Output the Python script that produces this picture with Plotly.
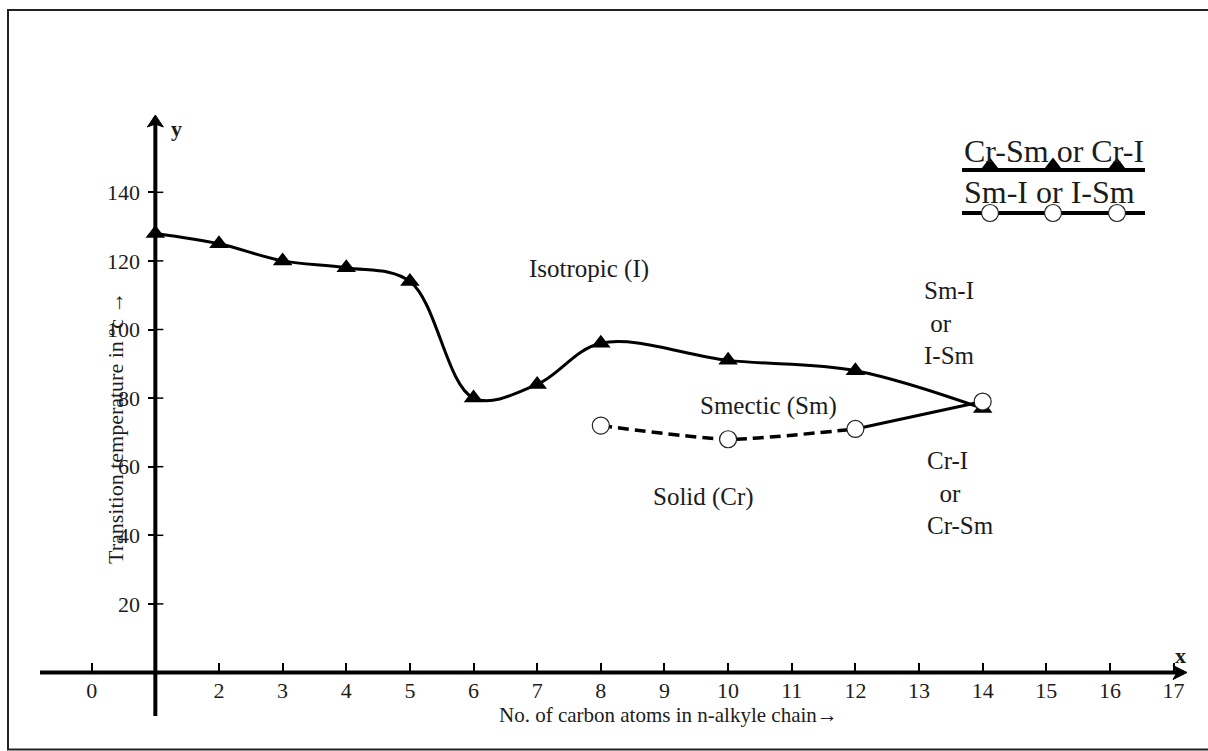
import plotly.graph_objects as go

# Transition temperatures (°C) against n-alkyl chain length
cr_x = [1, 2, 3, 4, 5, 6, 7, 8, 10, 12, 14]
cr_y = [128, 125, 120, 118, 114, 80, 84, 96, 91, 88, 77]

sm_dash_x = [8, 10, 12]
sm_dash_y = [72, 68, 71]
sm_solid_x = [12, 14]
sm_solid_y = [71, 79]

x_ticks = [0, 2, 3, 4, 5, 6, 7, 8, 9, 10, 11, 12, 13, 14, 15, 16, 17]
y_ticks = [20, 40, 60, 80, 100, 120, 140]

W, H = 1208, 751
FONT = "Liberation Serif, Times New Roman, serif"
INK = "#1c1c1c"

# pixel scale of the drawing
X0_PX, XS = 91.7, 63.64
Y0_PX, YS = 672.5, 3.43
x_range = [-X0_PX / XS, (W - X0_PX) / XS]
y_range = [(Y0_PX - H) / YS, Y0_PX / YS]

fig = go.Figure()

# Cr-Sm / Cr-I curve
fig.add_trace(go.Scatter(
    x=cr_x, y=cr_y, mode="lines+markers",
    line=dict(color="black", width=3, shape="spline", smoothing=1.0),
    marker=dict(symbol="triangle-up", size=17, color="black"),
    hoverinfo="skip"))

# Sm-I / I-Sm curve
fig.add_trace(go.Scatter(
    x=sm_dash_x, y=sm_dash_y, mode="lines",
    line=dict(color="black", width=3.5, dash="11px,6px", shape="spline", smoothing=0.6),
    hoverinfo="skip"))
fig.add_trace(go.Scatter(
    x=sm_solid_x, y=sm_solid_y, mode="lines",
    line=dict(color="black", width=3),
    hoverinfo="skip"))
fig.add_trace(go.Scatter(
    x=sm_dash_x + sm_solid_x[1:], y=sm_dash_y + sm_solid_y[1:], mode="markers",
    marker=dict(symbol="circle", size=17, color="white", line=dict(color="#222", width=1.2)),
    hoverinfo="skip"))

# key in the upper right corner (pixel overlay axes)
key_x = [990, 1053, 1117]
fig.add_trace(go.Scatter(
    x=[962, 1145], y=[170, 170], mode="lines", xaxis="x2", yaxis="y2",
    line=dict(color="black", width=4), hoverinfo="skip"))
fig.add_trace(go.Scatter(
    x=key_x, y=[166, 166, 166], mode="markers", xaxis="x2", yaxis="y2",
    marker=dict(symbol="triangle-up", size=17, color="black"), hoverinfo="skip"))
fig.add_trace(go.Scatter(
    x=[962, 1145], y=[213, 213], mode="lines", xaxis="x2", yaxis="y2",
    line=dict(color="black", width=4), hoverinfo="skip"))
fig.add_trace(go.Scatter(
    x=key_x, y=[213, 213, 213], mode="markers", xaxis="x2", yaxis="y2",
    marker=dict(symbol="circle", size=17, color="white", line=dict(color="#222", width=1.2)),
    hoverinfo="skip"))

shapes = []
# outer frame
shapes.append(dict(type="rect", xref="paper", yref="paper",
                   x0=8 / W, x1=1.02, y0=1.5 / H, y1=(H - 10) / H,
                   line=dict(color="#222", width=2)))
# axis lines
x_left, x_tip = (40 - X0_PX) / XS, (1187 - X0_PX) / XS
y_bottom, y_tip = (Y0_PX - 716) / YS, (Y0_PX - 115) / YS
shapes.append(dict(type="line", xref="x", yref="y", x0=x_left, x1=x_tip - 0.12,
                   y0=0, y1=0, line=dict(color="black", width=4)))
shapes.append(dict(type="line", xref="x", yref="y", x0=1, x1=1,
                   y0=y_bottom, y1=y_tip - 2.5, line=dict(color="black", width=4)))
# arrow heads
shapes.append(dict(type="path", xref="x", yref="y", xsizemode="pixel", ysizemode="pixel",
                   xanchor=x_tip, yanchor=0,
                   path="M 0 0 L -14 7 L -10 0 L -14 -7 Z",
                   fillcolor="black", line=dict(color="black", width=1)))
shapes.append(dict(type="path", xref="x", yref="y", xsizemode="pixel", ysizemode="pixel",
                   xanchor=1, yanchor=y_tip,
                   path="M 0 0 L -8 -12 L 0 -9 L 8 -12 Z",
                   fillcolor="black", line=dict(color="black", width=1)))
# inner half of the y ticks
for v in y_ticks:
    shapes.append(dict(type="line", xref="x", yref="y", xsizemode="pixel", xanchor=1,
                       x0=0, x1=8, y0=v, y1=v, line=dict(color="black", width=1.5)))

annotations = []


def label(text, x, y, size=25, ref="x", **kw):
    annotations.append(dict(text=text, x=x, y=y, xref=ref, yref=ref.replace("x", "y"),
                            showarrow=False, font=dict(family=FONT, size=size, color=INK), **kw))


label("Isotropic (I)", 7.81, 117.5)
label("Smectic (Sm)", 10.64, 77.7)
label("Solid (Cr)", 9.62, 51.3)
label("Sm-I<br>&nbsp;or<br>I-Sm", 13.05, 102, xanchor="left", align="left")
label("Cr-I<br>&nbsp;&nbsp;or<br>Cr-Sm", 13.1, 52.3, xanchor="left", align="left")
label("Cr-Sm or Cr-I", 962, 151, size=32, ref="x2", xanchor="left")
label("Sm-I or I-Sm", 962, 192, size=32, ref="x2", xanchor="left")
label("<b>y</b>", 176, 128, size=22, ref="x2")
label("<b>x</b>", 1180, 655, size=22, ref="x2")
label("No. of carbon atoms in n-alkyle chain\u2192", 668, 715, size=21, ref="x2")
label("Transition temperature in \u00bac \u2192", 115, 428, size=22, ref="x2", textangle=-90)

fig.update_layout(
    width=W, height=H, margin=dict(l=0, r=0, t=0, b=0),
    paper_bgcolor="white", plot_bgcolor="white", showlegend=False,
    shapes=shapes, annotations=annotations,
    xaxis=dict(range=x_range, domain=[0, 1], anchor="free", position=(H - Y0_PX) / H,
               showgrid=False, zeroline=False, showline=False,
               tickmode="array", tickvals=x_ticks, ticktext=[str(v) for v in x_ticks],
               ticks="inside", ticklen=10, tickwidth=1.5, tickcolor="black",
               ticklabelstandoff=2,
               tickfont=dict(family=FONT, size=22, color=INK)),
    yaxis=dict(range=y_range, domain=[0, 1], anchor="free", position=(X0_PX + XS) / W,
               showgrid=False, zeroline=False, showline=False,
               tickmode="array", tickvals=y_ticks, ticktext=[str(v) for v in y_ticks],
               ticks="outside", ticklen=7, tickwidth=1.5, tickcolor="black",
               ticklabelstandoff=4,
               tickfont=dict(family=FONT, size=22, color=INK)),
    xaxis2=dict(range=[0, W], overlaying="x", visible=False, domain=[0, 1]),
    yaxis2=dict(range=[H, 0], overlaying="y", visible=False, domain=[0, 1]),
)

fig.write_html("out.html")
